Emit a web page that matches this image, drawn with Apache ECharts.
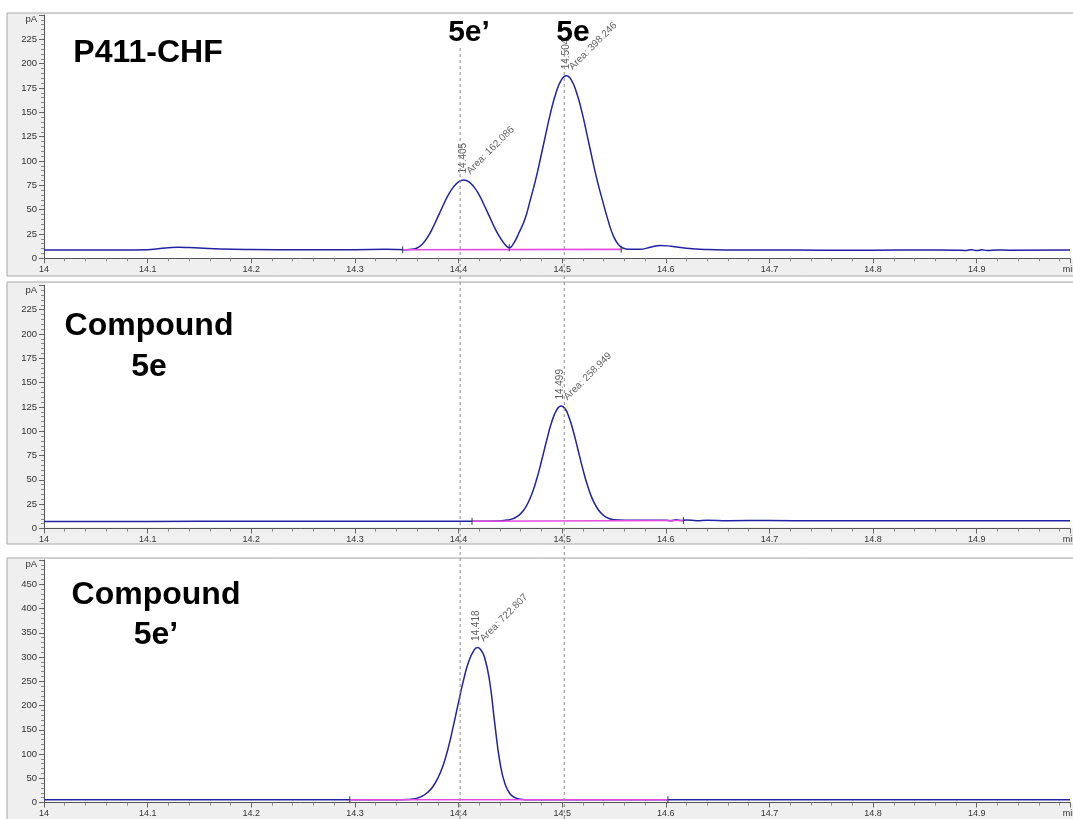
<!DOCTYPE html>
<html>
<head>
<meta charset="utf-8">
<title>GC traces</title>
<script src="https://cdn.jsdelivr.net/npm/echarts@6/dist/echarts.min.js"></script>
<style>
  html, body { margin: 0; padding: 0; background: #fff; overflow: hidden; }
  #chart { width: 1073px; height: 819px; }
</style>
</head>
<body>
<div id="chart"></div>
<script>
// retention time axis, min
const timeMin = 14
const timeMax = 14.99
const timeLabels = [14, 14.1, 14.2, 14.3, 14.4, 14.5, 14.6, 14.7, 14.8, 14.9, 14.99]

// P411-CHF  [min, pA]
const chfTrace = [
  [14.000, 8.5], [14.040, 8.5], [14.080, 8.6], [14.100, 8.8], [14.110, 9.8], [14.120, 10.8],
  [14.130, 11.3], [14.140, 11.0], [14.150, 10.6], [14.170, 9.6], [14.200, 9.0], [14.250, 8.7],
  [14.300, 8.9], [14.330, 9.2], [14.350, 8.9], [14.355, 9.3], [14.360, 10.6], [14.365, 14.5],
  [14.370, 21.5], [14.375, 31.0], [14.380, 42.5], [14.385, 54.0], [14.390, 64.9], [14.395, 73.1],
  [14.400, 78.6], [14.405, 80.5], [14.410, 78.6], [14.415, 73.1], [14.420, 64.9], [14.425, 54.0],
  [14.430, 42.5], [14.435, 31.0], [14.440, 21.5], [14.445, 14.0], [14.449, 10.8], [14.453, 15.0],
  [14.458, 25.5], [14.464, 40.0], [14.469, 59.0], [14.474, 79.1], [14.479, 102.3], [14.484, 126.9],
  [14.489, 150.4], [14.494, 169.9], [14.499, 182.9], [14.504, 187.5], [14.509, 182.9], [14.514, 169.9],
  [14.519, 150.4], [14.524, 126.9], [14.529, 102.3], [14.534, 79.1], [14.539, 59.0], [14.544, 40.0],
  [14.549, 24.0], [14.554, 14.5], [14.559, 10.5], [14.564, 9.3], [14.575, 9.3], [14.585, 11.3],
  [14.595, 13.2], [14.605, 12.4], [14.620, 10.3], [14.640, 9.0], [14.660, 8.6], [14.700, 8.5],
  [14.750, 8.4], [14.800, 8.4], [14.850, 8.5], [14.880, 8.4], [14.890, 8.0], [14.895, 8.9],
  [14.900, 7.9], [14.905, 8.8], [14.910, 8.0], [14.920, 8.6], [14.930, 8.4], [14.990, 8.5]
]
const chfBaseline = [[14.346, 8.8], [14.557, 9.2]]
const chfMarks = [[14.346, 8.8], [14.449, 10.8], [14.557, 9.2]]
const chfPeakTimes = [14.405, 14.504]
const chfPeakHeights = [80.5, 187.5]
const chfPeakAreas = ['162.086', '398.246']

// Compound 5e
const cpdETrace = [
  [14.000, 7.3], [14.100, 7.3], [14.200, 7.4], [14.300, 7.4], [14.410, 7.5], [14.440, 7.8],
  [14.445, 8.4], [14.450, 9.3], [14.455, 11.3], [14.460, 15.3], [14.465, 22.3], [14.470, 33.4],
  [14.475, 49.3], [14.480, 69.1], [14.485, 90.5], [14.490, 109.7], [14.495, 122.4], [14.499, 125.8],
  [14.503, 122.8], [14.507, 113.0], [14.511, 99.0], [14.515, 82.0], [14.520, 60.8], [14.525, 42.4],
  [14.530, 28.4], [14.535, 19.0], [14.540, 13.4], [14.545, 10.3], [14.550, 9.0], [14.560, 8.5],
  [14.580, 8.5], [14.600, 8.6], [14.605, 8.0], [14.610, 9.0], [14.615, 8.1], [14.620, 8.8],
  [14.630, 8.0], [14.640, 8.6], [14.660, 8.0], [14.700, 8.2], [14.750, 7.9], [14.800, 8.0],
  [14.850, 7.9], [14.900, 8.0], [14.950, 7.9], [14.990, 8.0]
]
const cpdEBaseline = [[14.413, 7.5], [14.617, 8.2]]
const cpdEMarks = [[14.413, 7.5], [14.617, 8.2]]
const cpdEPeakTimes = [14.499]
const cpdEPeakHeights = [125.8]
const cpdEPeakAreas = ['258.949']

// Compound 5e'
const cpdEpTrace = [
  [14.000, 5.6], [14.100, 5.6], [14.200, 5.6], [14.300, 5.6], [14.340, 5.6], [14.350, 6.0],
  [14.355, 7.0], [14.360, 9.0], [14.365, 13.0], [14.370, 20.5], [14.375, 32.0], [14.380, 50.0],
  [14.385, 76.0], [14.390, 112.0], [14.395, 158.0], [14.400, 207.0], [14.405, 254.0], [14.410, 292.0],
  [14.415, 314.0], [14.418, 319.5], [14.421, 316.0], [14.425, 300.0], [14.430, 250.0], [14.435, 162.0],
  [14.440, 82.0], [14.445, 37.0], [14.450, 17.0], [14.455, 9.5], [14.460, 6.5], [14.465, 5.8],
  [14.500, 5.6], [14.600, 5.6], [14.700, 5.6], [14.800, 5.6], [14.900, 5.6], [14.990, 5.6]
]
const cpdEpBaseline = [[14.295, 5.6], [14.602, 5.6]]
const cpdEpMarks = [[14.295, 5.6], [14.602, 5.6]]
const cpdEpPeakTimes = [14.418]
const cpdEpPeakHeights = [319.5]
const cpdEpPeakAreas = ['722.807']

// y axis label values per panel, last one carries the unit
const yLabels250 = [0, 25, 50, 75, 100, 125, 150, 175, 200, 225, 245]
const yLabels500 = [0, 50, 100, 150, 200, 250, 300, 350, 400, 450, 490]

// dashed guide lines across all panels
const guideTimes = [14.4015, 14.502]

const font = '"Liberation Sans", Arial, sans-serif'
const traceColor = '#2222a4'
const baseColor = '#e44ae0'

const panels = [
  { top: 15, height: 243.3, max: 250, interval: 25, yLabels: yLabels250, unitAt: 245,
    trace: chfTrace, base: chfBaseline, marks: chfMarks,
    times: chfPeakTimes, heights: chfPeakHeights, areas: chfPeakAreas },
  { top: 285.3, height: 243.2, max: 250, interval: 25, yLabels: yLabels250, unitAt: 245,
    trace: cpdETrace, base: cpdEBaseline, marks: cpdEMarks,
    times: cpdEPeakTimes, heights: cpdEPeakHeights, areas: cpdEPeakAreas },
  { top: 560, height: 242.5, max: 500, interval: 50, yLabels: yLabels500, unitAt: 490,
    trace: cpdEpTrace, base: cpdEpBaseline, marks: cpdEpMarks,
    times: cpdEpPeakTimes, heights: cpdEpPeakHeights, areas: cpdEpPeakAreas }
]

const axisGray = '#555'
const clear = 'rgba(0,0,0,0)'
const grids = []
const xAxes = []
const yAxes = []
const series = []

panels.forEach((p, i) => {
  grids.push({ left: 44, right: 3, top: p.top, height: p.height, outerBoundsMode: 'none' })
  xAxes.push({
    type: 'value', gridIndex: i, min: timeMin, max: timeMax, interval: 0.1,
    axisLine: { show: true, onZero: false, lineStyle: { color: axisGray, width: 1 } },
    axisTick: { show: true, length: 5, lineStyle: { color: '#666' } },
    minorTick: { show: true, splitNumber: 5, length: 3, lineStyle: { color: '#888' } },
    splitLine: { show: false },
    axisLabel: {
      customValues: timeLabels, margin: 7, fontSize: 9, color: '#333', fontFamily: font,
      formatter: v => (v > 14.95 ? 'min' : String(v))
    }
  })
  yAxes.push({
    type: 'value', gridIndex: i, min: 0, max: p.max, interval: p.interval,
    axisLine: { show: true, lineStyle: { color: axisGray, width: 1 } },
    axisTick: { show: true, length: 5, lineStyle: { color: '#666' } },
    minorTick: { show: true, splitNumber: 5, length: 3, lineStyle: { color: '#888' } },
    splitLine: { show: false },
    axisLabel: {
      customValues: p.yLabels, margin: 7, fontSize: 9.5, color: '#333', fontFamily: font,
      formatter: v => (v === p.unitAt ? 'pA' : String(v))
    }
  })
  series.push({
    type: 'line', xAxisIndex: i, yAxisIndex: i, data: p.trace, symbol: 'none',
    smooth: 0.5, lineStyle: { color: traceColor, width: 1.5 }, z: 3
  })
  series.push({
    type: 'line', xAxisIndex: i, yAxisIndex: i, data: p.base, symbol: 'none',
    lineStyle: { color: baseColor, width: 1.6 }, z: 4
  })
  series.push({
    type: 'scatter', xAxisIndex: i, yAxisIndex: i, data: p.marks,
    symbol: 'rect', symbolSize: [1.2, 7], itemStyle: { color: '#333' }, z: 5
  })
  const apex = p.times.map((t, k) => [t, p.heights[k]])
  series.push({
    type: 'scatter', xAxisIndex: i, yAxisIndex: i, data: apex,
    symbolSize: 1, itemStyle: { color: clear }, z: 6,
    label: {
      show: true, position: [0, -6], rotate: 90, align: 'left', verticalAlign: 'middle',
      fontSize: 10, color: '#333', fontFamily: font,
      formatter: d => d.value[0].toFixed(3)
    }
  })
  series.push({
    type: 'scatter', xAxisIndex: i, yAxisIndex: i, data: apex,
    symbolSize: 1, itemStyle: { color: clear }, z: 6,
    label: {
      show: true, position: [5, -7], rotate: 45, align: 'left', verticalAlign: 'middle',
      fontSize: 10, color: '#3a3a3a', fontFamily: font,
      formatter: d => 'Area: ' + p.areas[d.dataIndex]
    }
  })
})

// overlay grid for the guide lines
grids.push({ left: 44, right: 3, top: 47, bottom: 0, outerBoundsMode: 'none' })
xAxes.push({ type: 'value', gridIndex: 3, min: timeMin, max: timeMax, show: false })
yAxes.push({ type: 'value', gridIndex: 3, min: 0, max: 1, show: false })
guideTimes.forEach(t => {
  series.push({
    type: 'line', xAxisIndex: 3, yAxisIndex: 3, data: [[t, 0], [t, 1]], symbol: 'none',
    lineStyle: { color: '#8a8a8a', width: 1, type: [3, 3] }, z: 7
  })
})

function box (y, h) {
  return [
    { type: 'rect', z: -10, shape: { x: 7, y: y, width: 1070, height: h },
      style: { fill: '#efefef', stroke: '#a8a8a8', lineWidth: 1 } },
    { type: 'rect', z: -9, shape: { x: 44, y: y + 1, width: 1033, height: h - 18 },
      style: { fill: '#fff' } }
  ]
}

function title (text, x, y, size) {
  return {
    type: 'text', z: 50, x: x, y: y,
    style: { text: text, font: 'bold ' + size + 'px ' + font, fill: '#000',
      align: 'center', verticalAlign: 'middle', textAlign: 'center', textVerticalAlign: 'middle' }
  }
}

const chart = echarts.init(document.getElementById('chart'))
chart.setOption({
  animation: false,
  backgroundColor: '#fff',
  grid: grids,
  xAxis: xAxes,
  yAxis: yAxes,
  series: series,
  graphic: [
    ...box(13, 263),
    ...box(282, 262),
    ...box(558, 262),
    title('P411-CHF', 148, 53, 32),
    title('5e\u2019', 469, 33, 30),
    title('5e', 573, 33, 30),
    title('Compound', 149, 326, 32),
    title('5e', 149, 367, 32),
    title('Compound', 156, 595, 32),
    title('5e\u2019', 156, 635, 32)
  ]
})
</script>
</body>
</html>
